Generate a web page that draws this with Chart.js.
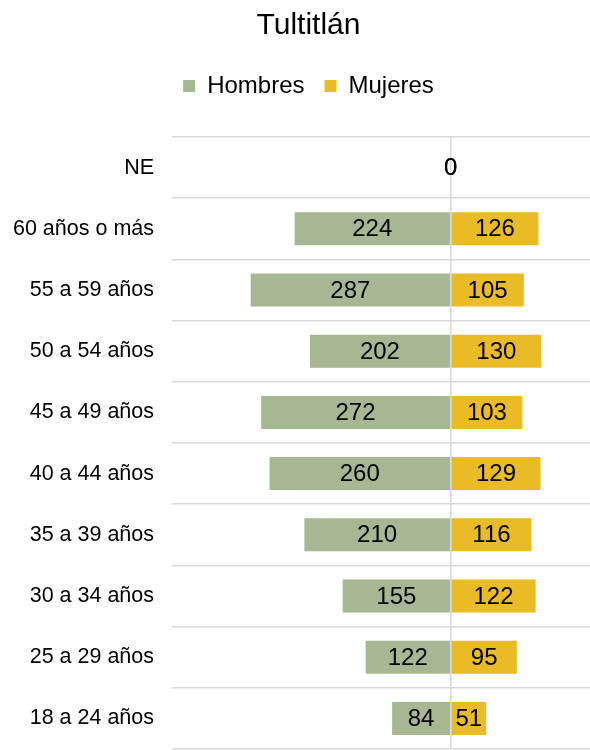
<!DOCTYPE html>
<html>
<head>
<meta charset="utf-8">
<script src="https://cdn.jsdelivr.net/npm/chart.js@4"></script>
<style>
  body { margin: 0; background: #fff; }
  #wrap { width: 590px; height: 750px; }
</style>
</head>
<body>
<div id="wrap"><canvas id="pyramid"></canvas></div>
<script>
// Datos (de arriba hacia abajo)
const categories = ['NE', '60 años o más', '55 a 59 años', '50 a 54 años', '45 a 49 años',
  '40 a 44 años', '35 a 39 años', '30 a 34 años', '25 a 29 años', '18 a 24 años'];
const hombres = [0, 224, 287, 202, 272, 260, 210, 155, 122, 84];
const mujeres = [0, 126, 105, 130, 103, 129, 116, 122, 95, 51];

const FONT = "'Liberation Sans', Arial, sans-serif";

// extra space under the legend
const legendMargin = {
  id: 'legendMargin',
  beforeInit(chart) {
    const fit = chart.legend.fit;
    chart.legend.fit = function () {
      fit.bind(chart.legend)();
      this.height += 29;
    };
  }
};

// value labels centered in each bar
const barLabels = {
  id: 'barLabels',
  afterDatasetsDraw(chart) {
    const ctx = chart.ctx;
    ctx.save();
    ctx.font = '24px ' + FONT;
    ctx.fillStyle = '#000';
    ctx.textAlign = 'center';
    ctx.textBaseline = 'middle';
    chart.data.datasets.forEach((ds, i) => {
      chart.getDatasetMeta(i).data.forEach((bar, j) => {
        const x = (bar.x + bar.base) / 2;
        ctx.fillText(Math.abs(ds.data[j]), x, bar.y + 1);
      });
    });
    ctx.restore();
  }
};

const ctx = document.getElementById('pyramid').getContext('2d');
new Chart(ctx, {
  type: 'bar',
  data: {
    labels: categories,
    datasets: [{
      label: 'Hombres',
      data: hombres.map(v => -v),
      backgroundColor: '#A7B794'
    }, {
      label: 'Mujeres',
      data: mujeres,
      backgroundColor: '#E8BB27'
    }]
  },
  options: {
    indexAxis: 'y',
    responsive: true,
    maintainAspectRatio: false,
    animation: false,
    // negative right padding only nudges title/legend to the right
    layout: { padding: { left: 13, right: -14, top: 0, bottom: 1 } },
    datasets: { bar: { barPercentage: 0.9, categoryPercentage: 0.6 } },
    scales: {
      x: {
        min: -400,
        max: 200,
        z: 1,
        afterFit: (scale) => { scale.height = 0; },
        ticks: { display: false, stepSize: 100 },
        border: { display: false },
        grid: {
          drawTicks: false,
          lineWidth: 1.5,
          color: (c) => (c.tick && c.tick.value === 0 ? '#D9D9D9' : 'transparent')
        }
      },
      y: {
        stacked: true,
        afterFit: (scale) => {
          scale.width = 159;
          scale.paddingTop = 0;
          scale.paddingBottom = 0;
        },
        border: { display: false },
        grid: { drawTicks: false, color: '#D9D9D9', lineWidth: 1.5 },
        ticks: { padding: 18, color: '#000', font: { family: FONT, size: 21.5 } }
      }
    },
    plugins: {
      title: {
        display: true,
        text: 'Tultitlán',
        color: '#000',
        font: { family: FONT, size: 30, weight: 'normal' },
        padding: { top: 8, bottom: 10 }
      },
      legend: {
        labels: {
          boxWidth: 12,
          boxHeight: 12,
          padding: 20,
          color: '#000',
          font: { family: FONT, size: 24 }
        }
      },
      tooltip: { enabled: false }
    }
  },
  plugins: [legendMargin, barLabels]
});
</script>
</body>
</html>
